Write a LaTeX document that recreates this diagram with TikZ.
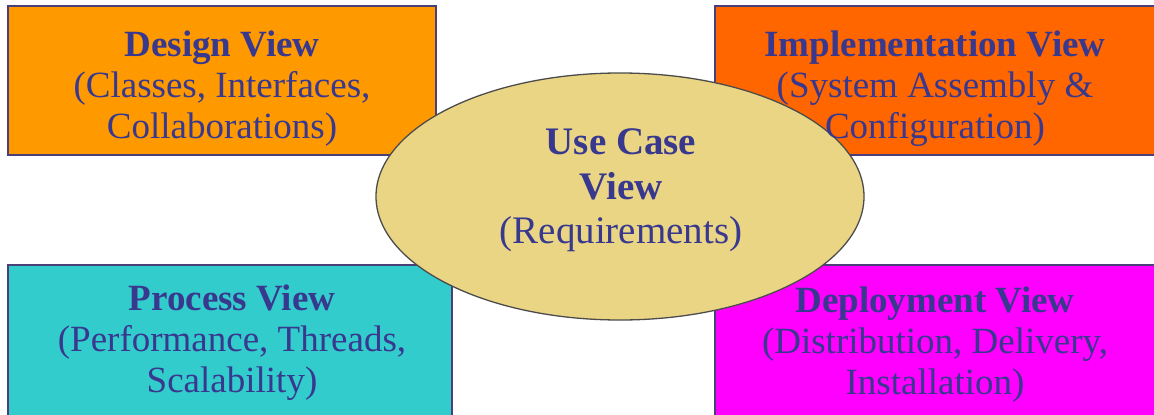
\documentclass[tikz,border=0pt]{standalone}
\usepackage{fontspec}
\setmainfont{Liberation Serif}
\usetikzlibrary{shapes.geometric}
\definecolor{txt}{HTML}{38388F}
\definecolor{edge}{HTML}{4B3F7A}
\definecolor{cdesign}{HTML}{FF9900}
\definecolor{cimpl}{HTML}{FF6600}
\definecolor{cproc}{HTML}{33CCCC}
\definecolor{cdepl}{HTML}{FF00FF}
\definecolor{cuse}{HTML}{E9D584}
\tikzset{
  viewbox/.style={draw=edge, line width=1.3pt, inner sep=0pt, outer sep=0pt},
  usecase/.style={ellipse, draw=black!70, line width=1.3pt, fill=cuse, inner sep=0pt,
    minimum width=488pt, minimum height=247pt},
  ttl/.style={anchor=base, inner sep=0pt, text=txt, font=\fontsize{37}{41}\selectfont\bfseries},
  sub/.style={anchor=base, inner sep=0pt, text=txt, font=\fontsize{37}{41}\selectfont},
  uttl/.style={anchor=base, inner sep=0pt, text=txt, font=\fontsize{39}{45}\selectfont\bfseries},
  usub/.style={anchor=base, inner sep=0pt, text=txt, font=\fontsize{39}{45}\selectfont}
}
\begin{document}
\begin{tikzpicture}[x=1pt, y=-1pt]
\useasboundingbox[fill=white] (0,0) rectangle (1154,415);
% boxes
\node[viewbox, fill=cdesign, minimum width=428pt, minimum height=149pt] (design) at (222,80.5) {};
\node[viewbox, fill=cimpl, minimum width=445pt, minimum height=149pt] (impl) at (937.5,80.5) {};
\node[viewbox, fill=cproc, minimum width=444pt, minimum height=155pt] (proc) at (230,342.5) {};
\node[viewbox, fill=cdepl, minimum width=445pt, minimum height=155pt] (depl) at (937.5,342.5) {};
% central ellipse
\node[usecase] (usec) at (620,196.5) {};
% texts
\node[ttl] (d1) at (222,56) {Design View};
\node[sub] (d2) at (222,97) {(Classes, Interfaces,};
\node[sub] (d3) at (222,138) {Collaborations)};
\node[ttl] (i1) at (935,56) {Implementation View};
\node[sub] (i2) at (935,97) {(System Assembly \&};
\node[sub] (i3) at (935,138) {Configuration)};
\node[ttl] (p1) at (232,310) {Process View};
\node[sub] (p2) at (232,351) {(Performance, Threads,};
\node[sub] (p3) at (232,392) {Scalability)};
\node[ttl] (e1) at (935,312) {Deployment View};
\node[sub] (e2) at (935,353) {(Distribution, Delivery,};
\node[sub] (e3) at (935,394) {Installation)};
\node[uttl] (u1) at (621,154) {Use Case};
\node[uttl] (u2) at (621,199) {View};
\node[usub] (u3) at (621,243) {(Requirements)};
\end{tikzpicture}
\end{document}
